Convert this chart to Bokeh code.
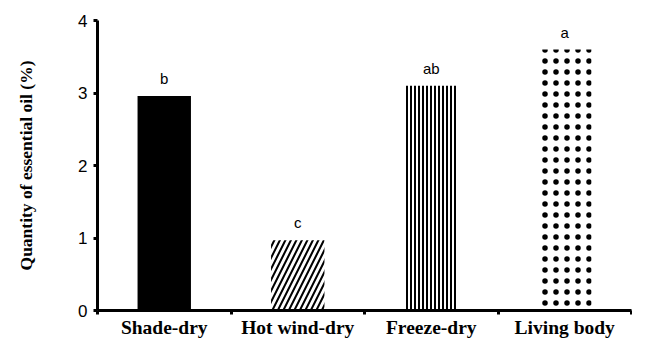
from bokeh.plotting import figure
from bokeh.models import ColumnDataSource, FixedTicker, Range1d
from bokeh.core.properties import value
from bokeh.embed import file_html
from bokeh.resources import INLINE

categories = ["Shade-dry", "Hot wind-dry", "Freeze-dry", "Living body"]
quantity = [2.96, 0.97, 3.10, 3.60]
letters = ["b", "c", "ab", "a"]
y_ticks = [0, 1, 2, 3, 4]

patterns = [" ", "/", "|", "."]
fills = ["black", "white", "white", "white"]
scales = [6, 11, 4, 11]
weights = [1, 2, 2, 8]

xc = [i + 0.5 for i in range(len(categories))]

p = figure(width=632, height=340, output_backend="svg", toolbar_location=None,
           x_range=Range1d(0, len(categories)), y_range=Range1d(0, 4),
           min_border_left=97, min_border_top=20, min_border_right=1, min_border_bottom=26)
p.outline_line_color = None
p.xgrid.visible = False
p.ygrid.visible = False

for i in range(len(categories)):
    src = ColumnDataSource(dict(x=[xc[i]], top=[quantity[i]]))
    p.vbar(x="x", top="top", bottom=0, width=0.4, source=src,
           fill_color=fills[i], line_color=None,
           hatch_pattern=patterns[i], hatch_color="black",
           hatch_scale=scales[i], hatch_weight=weights[i])

tsrc = ColumnDataSource(dict(x=xc, y=quantity, t=letters))
p.text(x="x", y="y", text="t", source=tsrc, text_align="center", text_baseline="bottom",
       y_offset=-9, text_font=value("Liberation Sans"), text_font_size="15px", text_color="black")

xa = p.xaxis[0]
xa.ticker = FixedTicker(ticks=xc, minor_ticks=list(range(len(categories) + 1)))
xa.major_label_overrides = {c: n for c, n in zip(xc, categories)}
xa.major_tick_out = 0
xa.major_tick_in = 0
xa.minor_tick_out = 4
xa.minor_tick_in = 0
xa.minor_tick_line_width = 3
xa.axis_line_width = 3
xa.major_label_standoff = 2
xa.major_label_text_font = "Liberation Serif"
xa.major_label_text_font_style = "bold"
xa.major_label_text_font_size = "19.5px"
xa.major_label_text_color = "black"

ya = p.yaxis[0]
ya.ticker = FixedTicker(ticks=y_ticks, minor_ticks=[])
ya.major_tick_out = 4
ya.major_tick_in = 0
ya.major_tick_line_width = 3
ya.axis_line_width = 3
ya.major_label_standoff = 6
ya.major_label_text_font = "Liberation Sans"
ya.major_label_text_font_size = "17px"
ya.major_label_text_color = "black"
ya.axis_label = "Quantity of essential oil (%)"
ya.axis_label_text_font = "Liberation Serif"
ya.axis_label_text_font_style = "bold"
ya.axis_label_text_font_size = "17.5px"
ya.axis_label_standoff = 39
ya.axis_label_text_color = "black"

open("out.html", "w").write(file_html(p, INLINE))
